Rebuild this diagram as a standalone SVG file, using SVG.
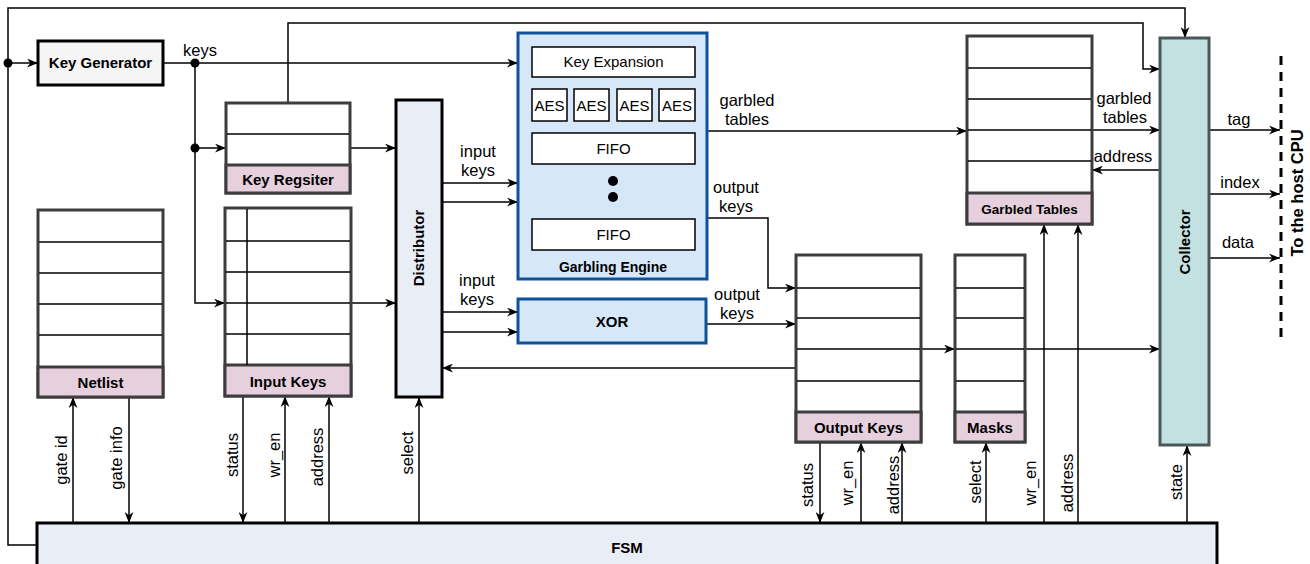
<svg xmlns="http://www.w3.org/2000/svg" width="1310" height="564" viewBox="0 0 1310 564">
  <style>
    text { font-family: "Liberation Sans", Arial, sans-serif; fill: #000; }
    .lbl { font-size: 16.5px; }
    .b { font-weight: bold; font-size: 15px; }
    .sm { font-size: 15px; }
    .reg { fill: #fff; stroke: #3d3d3d; stroke-width: 3; }
    .cap { fill: #e6d0de; stroke: #3d3d3d; stroke-width: 3; }
    .row { stroke: #000; stroke-width: 1.5; fill: none; }
    .ge { fill: #d6e7fa; stroke: #10529a; stroke-width: 3; }
    .sub { fill: #fff; stroke: #000; stroke-width: 1.5; }
    .wire { fill: none; stroke: #000; stroke-width: 1.5; }
    .arr { marker-end: url(#ah); }
    .dot { fill: #000; }
  </style>
  <defs>
    <marker id="ah" viewBox="0 0 10 8" refX="10" refY="4" markerWidth="11" markerHeight="9" markerUnits="userSpaceOnUse" orient="auto">
      <path d="M0,0 L10,4 L0,8 L3,4 Z" fill="#000"/>
    </marker>
  </defs>

  <rect width="1310" height="564" fill="#fff"/>

  <!-- connectors -->
  <g id="connectors">
    <!-- FSM feedback loop to collector and key generator -->
    <path class="wire arr" d="M37,545 H8 V8 H1185 V38"/>
    <path class="wire arr" d="M8,63 H38"/>
    <circle class="dot" cx="8" cy="63" r="4.5"/>
    <!-- keys distribution -->
    <path class="wire arr" d="M163,63 H518"/>
    <circle class="dot" cx="195" cy="63" r="4.5"/>
    <path class="wire arr" d="M195,63 V303 H225"/>
    <path class="wire arr" d="M195,148 H226"/>
    <circle class="dot" cx="195" cy="148" r="4.5"/>
    <text class="lbl" x="200" y="56" text-anchor="middle">keys</text>
    <!-- key register -->
    <path class="wire arr" d="M350,148 H396"/>
    <path class="wire arr" d="M288,103 V23 H1143 V69 H1160"/>
    <!-- input keys to distributor -->
    <path class="wire arr" d="M351,303 H396"/>
    <!-- distributor to garbling engine / xor -->
    <path class="wire arr" d="M442,183 H518"/>
    <path class="wire arr" d="M442,202 H518"/>
    <text class="lbl" x="478" y="157" text-anchor="middle">input</text>
    <text class="lbl" x="478" y="176" text-anchor="middle">keys</text>
    <path class="wire arr" d="M442,312 H518"/>
    <path class="wire arr" d="M442,332 H518"/>
    <text class="lbl" x="477" y="286" text-anchor="middle">input</text>
    <text class="lbl" x="477" y="305" text-anchor="middle">keys</text>
    <!-- output keys back to distributor -->
    <path class="wire arr" d="M796,368 H442"/>
    <!-- garbling engine outputs -->
    <path class="wire arr" d="M707,131 H967"/>
    <text class="lbl" x="747" y="106" text-anchor="middle">garbled</text>
    <text class="lbl" x="747" y="125" text-anchor="middle">tables</text>
    <path class="wire arr" d="M707,218 H768 V288 H796"/>
    <text class="lbl" x="736" y="193" text-anchor="middle">output</text>
    <text class="lbl" x="736" y="212" text-anchor="middle">keys</text>
    <path class="wire arr" d="M706,324 H796"/>
    <text class="lbl" x="737" y="300" text-anchor="middle">output</text>
    <text class="lbl" x="737" y="319" text-anchor="middle">keys</text>
    <!-- output keys / masks to collector -->
    <path class="wire arr" d="M921,349 H955"/>
    <path class="wire arr" d="M1025,349 H1160"/>
    <!-- garbled tables and collector -->
    <path class="wire arr" d="M1092,130 H1160"/>
    <text class="lbl" x="1124" y="104" text-anchor="middle">garbled</text>
    <text class="lbl" x="1125" y="123" text-anchor="middle">tables</text>
    <path class="wire arr" d="M1160,170 H1092"/>
    <text class="lbl" x="1123" y="162" text-anchor="middle">address</text>
    <!-- host interface -->
    <path class="wire arr" d="M1209,130 H1280"/>
    <text class="lbl" x="1239" y="125" text-anchor="middle">tag</text>
    <path class="wire arr" d="M1209,194 H1280"/>
    <text class="lbl" x="1240" y="188" text-anchor="middle">index</text>
    <path class="wire arr" d="M1209,258 H1280"/>
    <text class="lbl" x="1238" y="248" text-anchor="middle">data</text>
    <path d="M1281,56 V344" fill="none" stroke="#000" stroke-width="3" stroke-dasharray="9 7"/>
    <text class="b" font-size="16.5" transform="translate(1303,193) rotate(-90)" text-anchor="middle" style="font-size:16.5px">To the host CPU</text>
    <!-- FSM control signals -->
    <path class="wire arr" d="M73,523 V397"/>
    <text class="lbl" transform="translate(67,460) rotate(-90)" text-anchor="middle">gate id</text>
    <path class="wire arr" d="M129,397 V523"/>
    <text class="lbl" transform="translate(122,458) rotate(-90)" text-anchor="middle">gate info</text>
    <path class="wire arr" d="M243,396 V523"/>
    <text class="lbl" transform="translate(238,455) rotate(-90)" text-anchor="middle">status</text>
    <path class="wire arr" d="M285,523 V396"/>
    <text class="lbl" transform="translate(280,455) rotate(-90)" text-anchor="middle">wr_en</text>
    <path class="wire arr" d="M329,523 V396"/>
    <text class="lbl" transform="translate(323,457) rotate(-90)" text-anchor="middle">address</text>
    <path class="wire arr" d="M419,523 V397"/>
    <text class="lbl" transform="translate(413,453) rotate(-90)" text-anchor="middle">select</text>
    <path class="wire arr" d="M820,442 V523"/>
    <text class="lbl" transform="translate(813,485) rotate(-90)" text-anchor="middle">status</text>
    <path class="wire arr" d="M861,523 V442"/>
    <text class="lbl" transform="translate(853,483) rotate(-90)" text-anchor="middle">wr_en</text>
    <path class="wire arr" d="M902,523 V442"/>
    <text class="lbl" transform="translate(899,485) rotate(-90)" text-anchor="middle">address</text>
    <path class="wire arr" d="M986,523 V442"/>
    <text class="lbl" transform="translate(981,482) rotate(-90)" text-anchor="middle">select</text>
    <path class="wire arr" d="M1044,523 V224"/>
    <text class="lbl" transform="translate(1036,483) rotate(-90)" text-anchor="middle">wr_en</text>
    <path class="wire arr" d="M1078,523 V224"/>
    <text class="lbl" transform="translate(1073,483) rotate(-90)" text-anchor="middle">address</text>
    <path class="wire arr" d="M1187,523 V445"/>
    <text class="lbl" transform="translate(1182,482) rotate(-90)" text-anchor="middle">state</text>
  </g>

  <!-- Key Generator -->
  <g id="key-generator">
    <rect x="38" y="41" width="125" height="44" fill="#f5f5f5" stroke="#000" stroke-width="3"/>
    <text class="b" x="100.5" y="68" text-anchor="middle">Key Generator</text>
  </g>

  <!-- Key Register -->
  <g id="key-register">
    <rect class="reg" x="226" y="103" width="124" height="90"/>
    <rect class="cap" x="226" y="165" width="124" height="28"/>
    <line class="row" x1="227" y1="134" x2="349" y2="134"/>
    <text class="b" x="288" y="185" text-anchor="middle">Key Regsiter</text>
  </g>

  <!-- Netlist -->
  <g id="netlist">
    <rect class="reg" x="38" y="210" width="125" height="187"/>
    <rect class="cap" x="38" y="367" width="125" height="30"/>
    <path class="row" d="M39,242 H162 M39,273 H162 M39,304 H162 M39,335 H162"/>
    <text class="b" x="100.5" y="388" text-anchor="middle">Netlist</text>
  </g>

  <!-- Input Keys -->
  <g id="input-keys">
    <rect class="reg" x="225" y="208" width="126" height="188"/>
    <rect class="cap" x="225" y="365" width="126" height="31"/>
    <path class="row" d="M226,241 H350 M226,272 H350 M226,303 H350 M226,334 H350 M247,209 V365"/>
    <text class="b" x="288" y="387" text-anchor="middle">Input Keys</text>
  </g>

  <!-- Distributor -->
  <g id="distributor">
    <rect x="396" y="100" width="46" height="297" fill="#e9edf6" stroke="#000" stroke-width="3"/>
    <text class="b" transform="translate(424,248) rotate(-90)" text-anchor="middle">Distributor</text>
  </g>

  <!-- Garbling Engine -->
  <g id="garbling-engine">
    <rect class="ge" x="518" y="33" width="189" height="246"/>
    <rect class="sub" x="532" y="47" width="163" height="30"/>
    <text class="sm" x="613.5" y="67" text-anchor="middle">Key Expansion</text>
    <rect class="sub" x="532" y="89" width="35" height="32"/>
    <rect class="sub" x="574" y="89" width="35" height="32"/>
    <rect class="sub" x="617" y="89" width="35" height="32"/>
    <rect class="sub" x="659" y="89" width="36" height="32"/>
    <text class="sm" x="549.5" y="110.5" text-anchor="middle">AES</text>
    <text class="sm" x="591.5" y="110.5" text-anchor="middle">AES</text>
    <text class="sm" x="634.5" y="110.5" text-anchor="middle">AES</text>
    <text class="sm" x="677" y="110.5" text-anchor="middle">AES</text>
    <rect class="sub" x="532" y="133" width="163" height="31"/>
    <text class="sm" x="613.5" y="154" text-anchor="middle">FIFO</text>
    <circle class="dot" cx="613" cy="181" r="5"/>
    <circle class="dot" cx="613" cy="197" r="5"/>
    <rect class="sub" x="532" y="219" width="163" height="31"/>
    <text class="sm" x="613.5" y="240" text-anchor="middle">FIFO</text>
    <text class="b" x="613" y="272" text-anchor="middle" style="font-size:14px">Garbling Engine</text>
  </g>

  <!-- XOR -->
  <g id="xor">
    <rect class="ge" x="518" y="299" width="188" height="44"/>
    <text class="b" x="612" y="327" text-anchor="middle">XOR</text>
  </g>

  <!-- Output Keys -->
  <g id="output-keys">
    <rect class="reg" x="796" y="255" width="125" height="187"/>
    <rect class="cap" x="796" y="412" width="125" height="30"/>
    <path class="row" d="M797,288 H920 M797,318 H920 M797,349 H920 M797,381 H920"/>
    <text class="b" x="858.5" y="433" text-anchor="middle">Output Keys</text>
  </g>

  <!-- Masks -->
  <g id="masks">
    <rect class="reg" x="955" y="255" width="70" height="187"/>
    <rect class="cap" x="955" y="412" width="70" height="30"/>
    <path class="row" d="M956,288 H1024 M956,318 H1024 M956,349 H1024 M956,381 H1024"/>
    <text class="b" x="990" y="433" text-anchor="middle">Masks</text>
  </g>

  <!-- Garbled Tables -->
  <g id="garbled-tables">
    <rect class="reg" x="967" y="36" width="125" height="188"/>
    <rect class="cap" x="967" y="193" width="125" height="31"/>
    <path class="row" d="M968,68 H1091 M968,99 H1091 M968,130 H1091 M968,161 H1091"/>
    <text class="b" x="1029.5" y="214" text-anchor="middle" style="font-size:13.5px">Garbled Tables</text>
  </g>

  <!-- Collector -->
  <g id="collector">
    <rect x="1160" y="38" width="49" height="407" fill="#c3e1e0" stroke="#4a5858" stroke-width="3"/>
    <text class="b" transform="translate(1190,242) rotate(-90)" text-anchor="middle">Collector</text>
  </g>

  <!-- FSM -->
  <g id="fsm">
    <rect x="37" y="523" width="1180" height="50" fill="#e9edf6" stroke="#000" stroke-width="3"/>
    <text class="b" x="627" y="553" text-anchor="middle">FSM</text>
  </g>
</svg>
